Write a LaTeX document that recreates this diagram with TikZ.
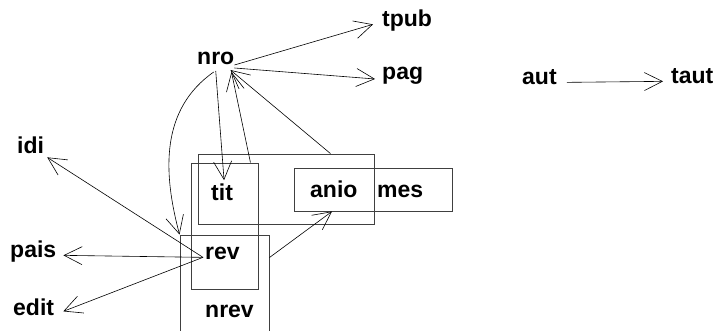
\documentclass[tikz,border=0pt]{standalone}
\usepackage{fontspec}
\setmainfont{Liberation Sans}
\usetikzlibrary{arrows.meta}
\begin{document}
\begin{tikzpicture}[x=1pt,y=1pt,
    lbl/.style={font=\bfseries\fontsize{23}{27}\selectfont,
      inner sep=0pt, anchor=base west},
    box/.style={draw=black!75, line width=0.9pt, inner sep=0pt},
    link/.style={line width=0.6pt,
      -{Straight Barb[length=18pt,width=18pt]}}]
  \useasboundingbox (0,0) rectangle (717,331);
  \clip (0,0) rectangle (717,331);
  \node[box, minimum width=176pt, minimum height=70pt] (bgrp) at (286,142) {};
  \node[box, minimum width=67pt, minimum height=126pt] (btit) at (224.5,105) {};
  \node[box, minimum width=158pt, minimum height=43pt] (bfecha) at (373,141.5) {};
  \node[box, minimum width=89pt, minimum height=110pt] (brev) at (224.5,41) {};
  \node[lbl] (nro) at (197,266) {nro};
  \node[lbl] (tpub) at (382,304) {tpub};
  \node[lbl] (pag) at (382,251) {pag};
  \node[lbl] (aut) at (522,246) {aut};
  \node[lbl] (taut) at (671,247) {taut};
  \node[lbl] (idi) at (17,177) {idi};
  \node[lbl] (pais) at (10,73) {pais};
  \node[lbl] (edit) at (13,15) {edit};
  \node[lbl] (tit) at (211,130) {tit};
  \node[lbl] (rev) at (205,71) {rev};
  \node[lbl] (nrev) at (205,13) {nrev};
  \node[lbl] (anio) at (310,133) {anio};
  \node[lbl] (mes) at (377,133) {mes};
  \draw[link] (nro.base east) -- ([xshift=-9pt]tpub.mid west);
  \draw[link] ([yshift=-3pt]nro.base east) -- ([xshift=-7pt,yshift=1pt]pag.base west);
  \draw[link] ([xshift=-8pt]btit.north east) -- ([xshift=-3pt,yshift=-7pt]nro.base east);
  \draw[link] ([xshift=-44pt]bgrp.north east) -- ([xshift=-4pt,yshift=-5pt]nro.base east);
  \draw[link] ([yshift=-6pt]nro.base) -- ([xshift=2pt,yshift=4pt]tit.north);
  \draw[link] ([xshift=-2pt,yshift=-7pt]nro.base) to[out=215,in=105] (brev.north west);
  \foreach \d/\s in {idi/{3pt,-6pt},pais/{7pt,0pt},edit/{9pt,2pt}}{
    \draw[link] ([xshift=-2pt]rev.mid west) -- ([shift={(\s)}]\d.mid east);
  }
  \draw[link] ([yshift=-23pt]brev.north east) -- ([xshift=-41pt]bfecha.south);
  \draw[link] ([xshift=10pt]aut.mid east) -- ([xshift=-8pt]taut.mid west);
\end{tikzpicture}
\end{document}
